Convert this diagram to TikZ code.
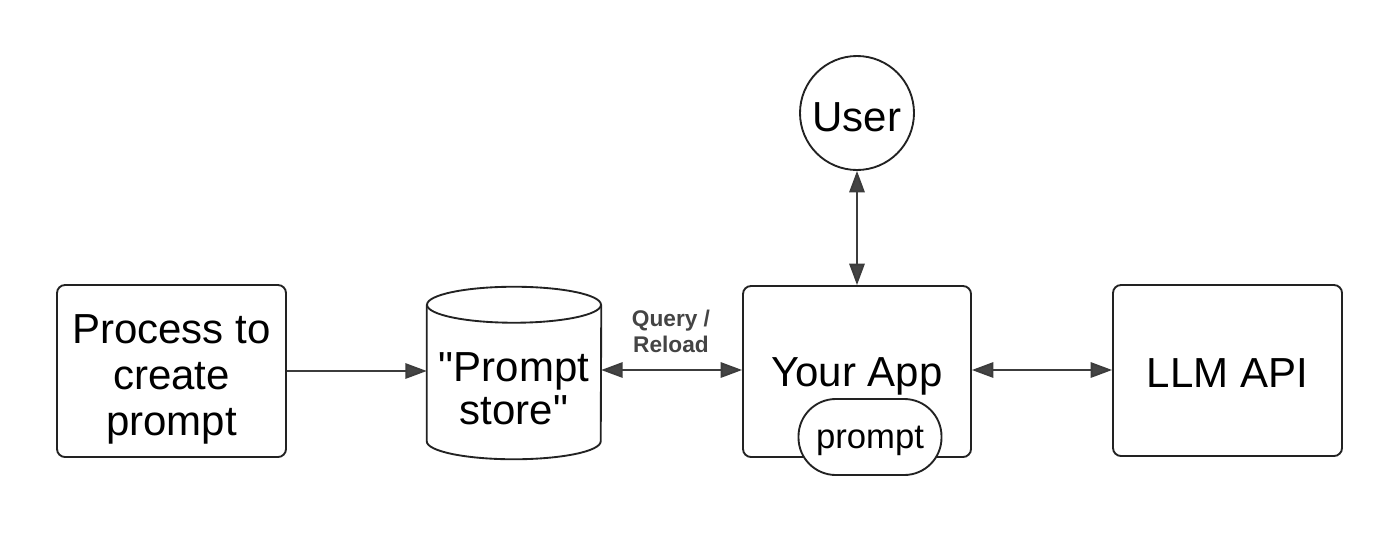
\documentclass[tikz,border=0pt]{standalone}
\usepackage{fontspec}
\setmainfont{Liberation Sans}[Ligatures=TeXOff]
\usetikzlibrary{arrows.meta}
\definecolor{edge}{HTML}{222222}
\definecolor{conn}{HTML}{3C3C3C}
\definecolor{lbl}{HTML}{444444}
\tikzset{
  big/.style={align=center, font=\fontsize{31.5}{34.5}\selectfont, inner sep=0pt},
  box/.style={draw=edge, line width=1.4pt, rounded corners=6pt, inner sep=0pt},
  pill/.style={draw=edge, fill=white, line width=1.4pt, rounded corners=28pt,
    minimum width=107.25pt, minimum height=57pt, inner sep=0pt},
  userc/.style={draw=edge, circle, line width=1.4pt, minimum size=85.5pt, inner sep=0pt},
  conn/.style={draw=conn, line width=1.4pt},
  tipped/.style={conn, -{Triangle[length=16pt, width=11.5pt, fill=lbl]}},
  dtipped/.style={conn, {Triangle[length=16pt, width=11.5pt, fill=lbl]}-{Triangle[length=16pt, width=11.5pt, fill=lbl]}},
  qlabel/.style={font=\bfseries\fontsize{17}{19.5}\selectfont, text=lbl, align=center}
}
\begin{document}
\begin{tikzpicture}[x=0.75pt,y=-0.75pt]
\useasboundingbox[fill=white] (0,0) rectangle (1400,533);
\node[box, minimum width=171.75pt, minimum height=129pt,
  label={[big, yshift=-6pt]center:Process to\\create\\prompt}] (proc) at (171.5,371) {};
\node[minimum width=130.5pt, minimum height=115.5pt, inner sep=0pt,
  label={[big, yshift=-5pt, font=\fontsize{31.5}{32}\selectfont]center:"Prompt\\store"}] (store) at (514,382) {};
\draw[edge, line width=1.4pt] (store.north west) -- ([yshift=13.5pt]store.south west)
  arc[start angle=180, end angle=360, x radius=65.25pt, y radius=13.5pt]
  -- (store.north east);
\draw[edge, line width=1.4pt] (store.north) ellipse [x radius=65.25pt, y radius=13.5pt];
\node[box, minimum width=171pt, minimum height=128.25pt,
  label={[big, yshift=-3.5pt]center:Your App}] (app) at (857,371.5) {};
\node[pill, label={[big, yshift=-3pt, font=\fontsize{26}{30}\selectfont]center:prompt}] (prompt) at (870,437) {};
\node[box, minimum width=171.75pt, minimum height=128.25pt,
  label={[big, yshift=-2pt]center:LLM API}] (llm) at (1227.5,370.5) {};
\node[userc, label={[big, yshift=-3pt]center:User}] (user) at (857,113) {};
\path[tipped] (proc.east) -- (proc.east -| store.west);
\path[dtipped] (store.east |- 0,370) -- (app.west |- 0,370);
\path[dtipped] (app.east |- 0,370) -- (llm.west |- 0,370);
\path[dtipped] (user.south) -- (app.north);
\node[qlabel] (ql) at (671,331) {Query /\\Reload};
\end{tikzpicture}
\end{document}
